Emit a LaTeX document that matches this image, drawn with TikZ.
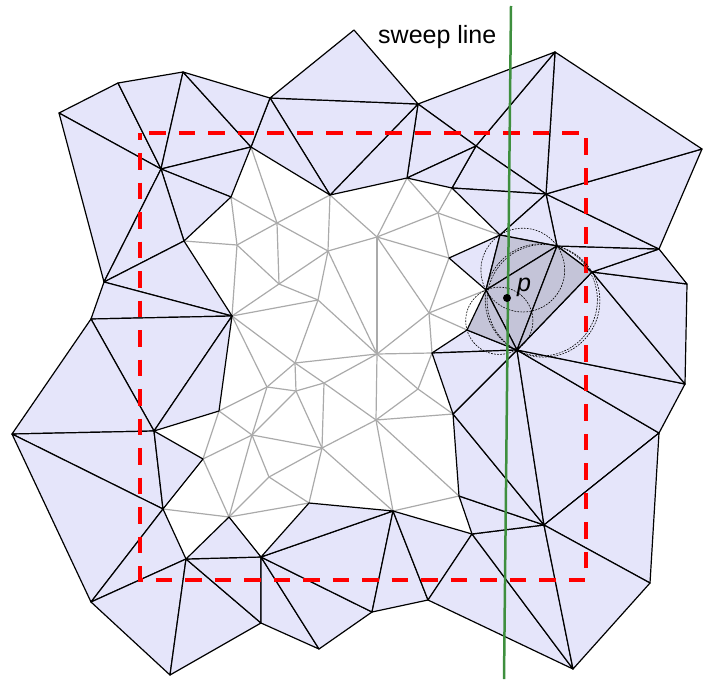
\documentclass[tikz,border=0pt]{standalone}
\usepackage{fontspec}
\setmainfont{Liberation Sans}
\begin{document}
\begin{tikzpicture}[x=1pt,y=-1pt,
    meshedge/.style={draw=colE, line width=1.2pt},
    redbox/.style={draw=red, line width=4pt, dash pattern=on 16.5pt off 13pt, dash phase=9.5pt},
    circ/.style={draw=black, line width=0.6pt, dash pattern=on 1.8pt off 1.2pt},
    sweepln/.style={draw=colL, line width=2.5pt}]
    \useasboundingbox (0,0) rectangle (703,679);

    \definecolor{colB}{RGB}{229,229,250}
    \definecolor{colS}{RGB}{196,196,216}
    \definecolor{colE}{RGB}{170,170,170}
    \definecolor{colL}{RGB}{62,143,62}

    % Macro for one triangle of the mesh
    \newcommand{\tri}[4]{
        \filldraw[fill=#4, draw=black, line width=1.2pt, line join=round]
            (#1) -- (#2) -- (#3) -- cycle;
    }

    % Outer boundary points
    \foreach \n/\vx/\vy in {o1/59/113, o2/118/83, o3/183/72, o4/270/98, o5/354/30,
        o6/418/104, o7/555/52, o8/702/149, o9/659/249, o10/687/284, o11/685/384,
        o12/659/433, o13/650/583, o14/573/669, o15/428/600, o16/372/612,
        o17/319/649, o18/261/623, o19/170/675, o20/91/602, o21/12/434,
        o22/91/319, o23/104/282} {
        \coordinate (\n) at (\vx,\vy);
    }

    % Points of the finished (blue) triangles
    \foreach \n/\vx/\vy in {a1/161/169, a2/251/147, a3/231/197, a4/184/241,
        a5/330/195, a6/407/178, a7/476/146, a8/452/188, a9/546/194, a10/500/235,
        a11/557/246, a12/592/272, a13/486/290, a14/467/330, a15/517/350,
        a16/449/258, a17/432/353, a18/453/414, a19/459/496, a20/544/525,
        a21/472/534, a22/393/511, a23/309/503, a24/261/557, a25/229/517,
        a26/186/559, a27/163/509, a28/154/431, a29/203/459, a30/219/411,
        a31/232/316} {
        \coordinate (\n) at (\vx,\vy);
    }

    % Inner points
    \foreach \n/\vx/\vy in {g1/277/223, g2/237/245, g3/328/251, g4/377/237,
        g5/279/284, g6/318/300, g7/429/313, g8/377/354, g9/438/213,
        g10/295/363, g11/267/387, g12/296/391, g13/324/383, g14/418/389,
        g15/376/420, g16/252/435, g17/322/448, g18/269/477} {
        \coordinate (\n) at (\vx,\vy);
    }

    % Inner (grey) edges
    \foreach \a/\b in {a2/g1, a3/g1, a3/g2, a4/g2, g1/g2, g1/a5, g1/g3, g1/g5,
        g2/g5, g2/a31, g5/g3, g5/g6, g5/a31, g3/a5, g3/g4, g3/g6, g3/g8,
        g4/a5, g4/a6, g4/g9, g4/a16, g4/g7, g4/g8, g9/a6, g9/a8, g9/a10,
        g9/a16, a16/g7, g7/a13, g7/a14, g7/a17, g7/g8, g6/a31, g6/g8, g6/g10,
        g10/a31, g10/g8, g10/g13, g10/g12, g10/g11, g11/a31, g11/a30, g11/g12,
        g11/g16, g8/a17, g8/g14, g8/g15, g8/g13, g14/a17, g14/a18, g14/g15,
        g15/a18, g15/a19, g15/a22, g15/g17, g15/g13, g13/g12, g13/g17,
        g12/g16, g12/g17, g16/a30, g16/a29, g16/a25, g16/g18, g16/g17,
        g17/g18, g17/a23, g17/a22, g18/a23, g18/a25, a25/a23, a25/a29,
        a25/a27, a29/a30, a22/a19} {
        \draw[meshedge] (\a) -- (\b);
    }

    % Blue triangles
    \foreach \a/\b/\c in {o1/o2/a1, o2/o3/a1, o3/a2/a1, a1/a2/a3, a1/a3/a4,
        o1/a1/o23, o23/a1/a4, o23/a4/a31, o23/a31/o22, o22/a31/a28,
        a28/a31/a30, o22/a28/o21, o21/a28/a27, a28/a29/a27, o21/a27/o20,
        o20/a27/a26, o20/a26/o19, o19/a26/o18, a26/o18/a24, a26/a24/a25,
        a24/o18/o17, a24/o17/o16, a24/o16/a22, a24/a22/a23, a22/o16/o15,
        a22/o15/a21, a21/o15/o14, a21/o14/a20, a21/a20/a19, a19/a20/a18,
        a18/a20/a15, a15/a20/o12, a20/o13/o12, a20/o14/o13, a15/o12/o11,
        a15/o11/a12, a12/o11/o10, a12/o10/o9, a12/o9/a11, a11/o9/a9,
        a9/o9/o8, a9/o8/o7, a7/o7/a9, a7/a9/a8, a8/a9/a10, a10/a9/a11,
        o6/o7/a7, a6/o6/a7, a6/a7/a8, a5/o6/a6, o4/o6/a5, o4/o5/o6,
        a2/o4/a5, o3/o4/a2, a16/a10/a13, a17/a14/a15, a17/a15/a18} {
        \tri{\a}{\b}{\c}{colB}
    }

    % Triangles around p
    \foreach \a/\b/\c in {a10/a11/a13, a11/a15/a13, a11/a12/a15, a13/a15/a14} {
        \tri{\a}{\b}{\c}{colS}
    }

    \draw[redbox] (140,133) rectangle (586,580);

    % Circumcircles
    \draw[circ] (522.8,270.1) circle [radius=41.9pt];
    \draw[circ] (541.3,299.9) circle [radius=56.1pt];
    \draw[circ] (543.5,300.8) circle [radius=56.4pt];
    \draw[circ] (499.3,320.8) circle [radius=33.6pt];

    \coordinate (stop) at (511,6);
    \coordinate (sbot) at (504,679);
    \draw[sweepln] (stop) -- (sbot);

    \node[anchor=base west, inner sep=0pt, font=\fontsize{25}{30}\selectfont]
        (lbl) at (378,44) {sweep line};
    \node[circle, fill=black, inner sep=0pt, minimum size=8pt] (p) at (507,298) {};
    \node[anchor=base west, inner sep=0pt, font=\fontsize{25}{30}\selectfont\itshape]
        (plbl) at (517,291) {p};
\end{tikzpicture}
\end{document}
